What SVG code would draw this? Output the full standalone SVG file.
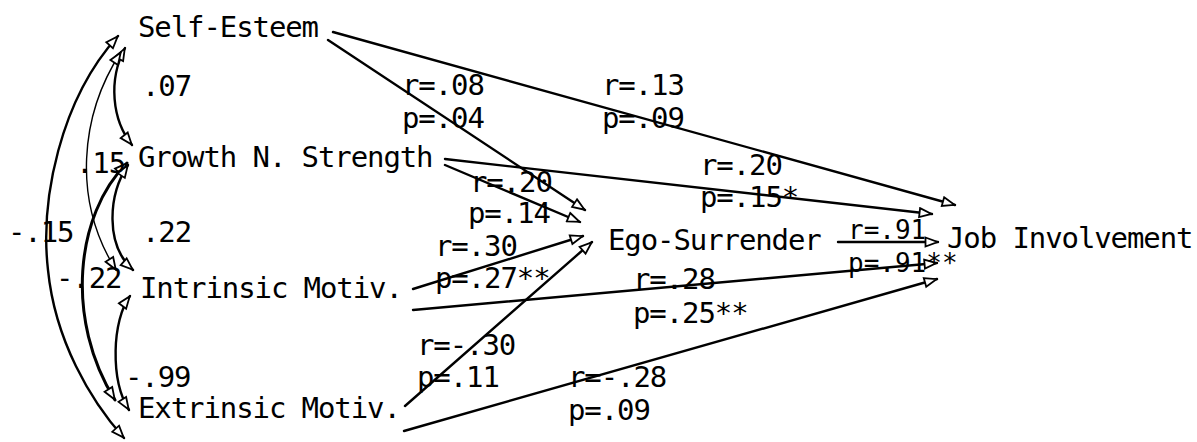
<svg xmlns="http://www.w3.org/2000/svg" width="1197" height="442" viewBox="0 0 1197 442">
<style>
text{font-family:"DejaVu Sans Mono","Liberation Mono",monospace;font-size:29px;letter-spacing:-1.1px;fill:#000}
text.sm{font-size:26px;letter-spacing:0px}
.c{fill:none;stroke:#000;stroke-width:2.4;stroke-linecap:round}
.thin{stroke-width:1.4}
.thick{stroke-width:3}
.a{marker-end:url(#ah)}
.b{marker-start:url(#ah);marker-end:url(#ah)}
</style>
<defs>
<marker id="ah" viewBox="0 0 15 12" refX="14" refY="6" markerWidth="15" markerHeight="12" markerUnits="userSpaceOnUse" orient="auto-start-reverse">
<path d="M1.5,1.5 L13.5,6 L1.5,10.5 Z" fill="#fff" stroke="#000" stroke-width="1.8" stroke-linejoin="miter"/>
</marker>
</defs>
<rect width="1197" height="442" fill="#fff"/>
<g id="connectors">
<path class="c b" d="M118,36 C60,100 40,200 48,270 C55,340 90,400 124,438"/>
<path class="c b" d="M125,48 C108,80 112,120 132,145"/>
<path class="c thin b" d="M121,52 C80,115 72,200 116,270"/>
<path class="c thick b" d="M127,163 C75,215 65,320 115,400"/>
<path class="c b" d="M128,165 C108,195 105,245 133,270"/>
<path class="c b" d="M130,296 C112,320 110,380 129,410"/>
<path class="c a" d="M328,40 L585,210"/>
<path class="c a" d="M333,32 L955,205"/>
<path class="c a" d="M445,165 L580,222"/>
<path class="c a" d="M445,159 L932,214"/>
<path class="c a" d="M413,289 L583,236"/>
<path class="c a" d="M413,310 L937,263"/>
<path class="c a" d="M405,406 L592,242"/>
<path class="c a" d="M404,431 L937,279"/>
<path class="c a" d="M838,242 L938,242"/>
</g>
<g id="labels">
<text x="142" y="96">.07</text>
<text x="76" y="173">.15</text>
<text x="8" y="242">-.15</text>
<text x="142" y="242">.22</text>
<text x="56" y="288">-.22</text>
<text x="125" y="387">-.99</text>
<text x="402" y="95">r=.08</text>
<text x="402" y="128">p=.04</text>
<text x="602" y="95">r=.13</text>
<text x="602" y="128">p=.09</text>
<text x="700" y="175">r=.20</text>
<text x="700" y="207">p=.15*</text>
<text x="470" y="192">r=.20</text>
<text x="468" y="223">p=.14</text>
<text x="435" y="256">r=.30</text>
<text x="435" y="288">p=.27**</text>
<text x="633" y="289">r=.28</text>
<text x="633" y="323">p=.25**</text>
<text x="417" y="355">r=-.30</text>
<text x="417" y="387">p=.11</text>
<text x="568" y="387">r=-.28</text>
<text x="568" y="420">p=.09</text>
<text class="sm" x="848" y="239">r=.91</text>
<text class="sm" x="848" y="272">p=.91**</text>
</g>
<g id="self-esteem"><text x="138" y="37">Self-Esteem</text></g>
<g id="growth"><text x="138" y="167">Growth N. Strength</text></g>
<g id="intrinsic"><text x="140" y="298">Intrinsic Motiv.</text></g>
<g id="extrinsic"><text x="138" y="418">Extrinsic Motiv.</text></g>
<g id="ego-surrender"><text x="608" y="250">Ego-Surrender</text></g>
<g id="job-involvement"><text x="947" y="248">Job Involvement</text></g>
</svg>
